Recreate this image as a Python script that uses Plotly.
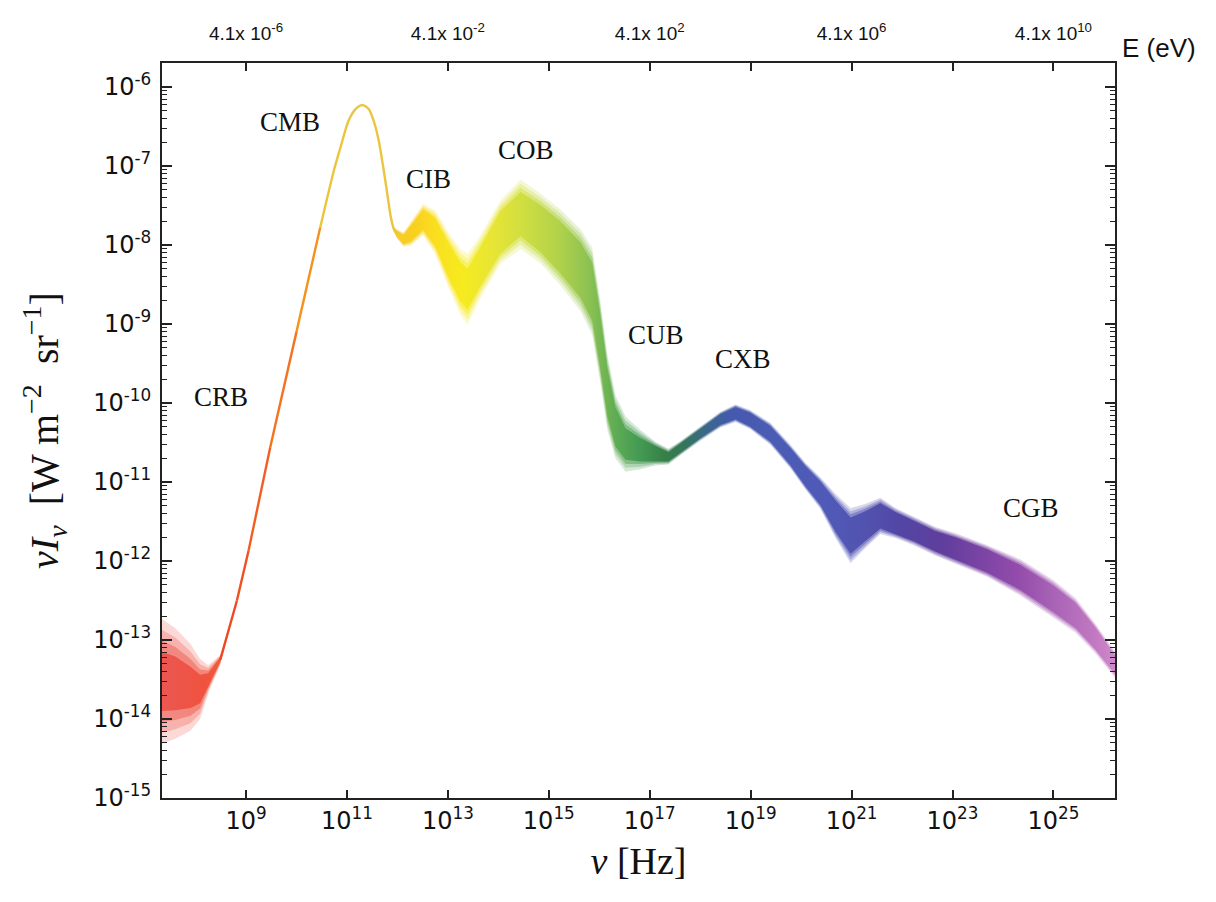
import numpy as np
import plotly.graph_objects as go

# ---------------- data ----------------
# log10 of frequency nu [Hz]
log_nu = [7.30, 7.60, 7.90, 8.09, 8.25, 8.49, 8.82, 9.05, 9.48, 10.00,
          10.47, 10.61, 10.74, 10.87, 11.03, 11.17, 11.30, 11.43, 11.53, 11.63,
          11.73, 11.81, 11.87, 11.93, 11.99, 12.12, 12.26, 12.51, 12.75, 13.01,
          13.25, 13.39, 13.64, 14.04, 14.44, 14.83, 15.23, 15.63, 15.86, 16.02,
          16.16, 16.32, 16.52, 16.81, 17.11, 17.37, 17.61, 18.00, 18.40, 18.70,
          18.99, 19.39, 19.79, 20.09, 20.38, 20.68, 20.98, 21.27, 21.57, 21.87,
          22.23, 22.66, 23.06, 23.69, 24.35, 25.00, 25.44, 25.83, 26.23]
# log10 of nu*I_nu [W m^-2 sr^-1], middle of the band
log_nuInu = [-13.52, -13.55, -13.60, -13.62, -13.50, -13.25, -12.50, -11.87, -10.56, -9.10,
             -7.78, -7.40, -7.06, -6.77, -6.43, -6.28, -6.23, -6.28, -6.43, -6.68,
             -7.06, -7.40, -7.65, -7.80, -7.86, -7.93, -7.86, -7.68, -7.84, -8.19,
             -8.47, -8.56, -8.28, -7.84, -7.61, -7.79, -8.03, -8.32, -8.59, -9.22,
             -9.86, -10.30, -10.52, -10.59, -10.64, -10.68, -10.57, -10.39, -10.21, -10.13,
             -10.21, -10.39, -10.68, -10.93, -11.14, -11.43, -11.68, -11.56, -11.43, -11.52,
             -11.62, -11.75, -11.84, -12.00, -12.21, -12.48, -12.69, -12.98, -13.32]
# half width of the dense core of the band [dex]
core_spread = [0.38, 0.34, 0.26, 0.18, 0.08, 0.03, 0.0, 0.0, 0.0, 0.0,
               0.0, 0.0, 0.0, 0.0, 0.0, 0.0, 0.0, 0.0, 0.0, 0.0,
               0.0, 0.0, 0.0, 0.02, 0.04, 0.06, 0.10, 0.13, 0.18, 0.22,
               0.25, 0.26, 0.25, 0.27, 0.28, 0.30, 0.33, 0.35, 0.37, 0.35,
               0.31, 0.25, 0.20, 0.15, 0.10, 0.06, 0.06, 0.06, 0.07, 0.08,
               0.09, 0.10, 0.11, 0.13, 0.15, 0.20, 0.23, 0.19, 0.16, 0.14,
               0.13, 0.13, 0.14, 0.15, 0.16, 0.17, 0.16, 0.14, 0.12]
# half width of the faint outer scatter [dex]
outer_spread = [0.80, 0.70, 0.55, 0.38, 0.18, 0.06, 0.0, 0.0, 0.0, 0.0,
                0.0, 0.0, 0.0, 0.0, 0.0, 0.0, 0.0, 0.0, 0.0, 0.0,
                0.0, 0.0, 0.0, 0.03, 0.06, 0.09, 0.15, 0.20, 0.28, 0.35,
                0.42, 0.45, 0.40, 0.40, 0.44, 0.44, 0.48, 0.52, 0.55, 0.52,
                0.48, 0.40, 0.35, 0.25, 0.15, 0.10, 0.09, 0.09, 0.10, 0.11,
                0.12, 0.14, 0.15, 0.17, 0.20, 0.28, 0.35, 0.28, 0.23, 0.19,
                0.18, 0.18, 0.19, 0.20, 0.23, 0.24, 0.22, 0.19, 0.17]

# component labels
label_text = ["CRB", "CMB", "CIB", "COB", "CUB", "CXB", "CGB"]
label_log_nu = [8.51, 9.87, 12.61, 14.54, 17.13, 18.84, 24.55]
label_log_val = [-9.93, -6.45, -7.16, -6.80, -9.14, -9.44, -11.33]

# axis ticks
x_tick_exp = [9, 11, 13, 15, 17, 19, 21, 23, 25]
y_tick_exp = [-15, -14, -13, -12, -11, -10, -9, -8, -7, -6]
energy_tick_exp = [9, 13, 17, 21, 25]
energy_tick_text = ["4.1x 10<sup>-6</sup>", "4.1x 10<sup>-2</sup>", "4.1x 10<sup>2</sup>",
                    "4.1x 10<sup>6</sup>", "4.1x 10<sup>10</sup>"]

# ---------------- colour along the spectrum ----------------
color_stops = [
    (7.30, "#e8403a"), (8.20, "#ee3a24"), (8.90, "#f05023"), (9.60, "#f26a22"),
    (10.20, "#f5901e"), (10.46, "#f7a01c"), (10.50, "#e9c23a"), (11.50, "#ebc63e"),
    (11.95, "#f2c410"), (12.30, "#f8c800"), (12.80, "#f8dc00"), (13.30, "#f5e800"),
    (13.90, "#e4e21a"), (14.50, "#c8da26"), (15.20, "#a6cc32"), (15.80, "#7cba3a"),
    (16.30, "#4aa23c"), (16.80, "#2a8c3c"), (17.30, "#1b6e2e"), (17.70, "#1a6246"),
    (18.10, "#1f5478"), (18.60, "#2c42a2"), (19.50, "#3246aa"), (20.50, "#3844ae"),
    (21.30, "#3a3aa4"), (22.00, "#3a2c98"), (22.80, "#4a2490"), (23.60, "#6a2a98"),
    (24.30, "#8434a0"), (25.00, "#9c4eac"), (25.80, "#b866b8"), (26.23, "#c87ac4"),
]
CMB_START = 10.47  # where the thin line turns from orange to the golden CMB colour


def hex_rgb(h):
    h = h.lstrip("#")
    return np.array([int(h[i:i + 2], 16) for i in (0, 2, 4)], dtype=float)


def blend(c, alpha):
    c = hex_rgb(c) * alpha + 255 * (1 - alpha)
    return "rgb(%d,%d,%d)" % tuple(np.clip(np.round(c), 0, 255))


def color_at(L, alpha=1.0):
    pos = [s[0] for s in color_stops]
    cols = [hex_rgb(s[1]) for s in color_stops]
    k = int(np.clip(np.searchsorted(pos, L) - 1, 0, len(pos) - 2))
    t = np.clip((L - pos[k]) / (pos[k + 1] - pos[k]), 0, 1)
    c = cols[k] * (1 - t) + cols[k + 1] * t
    c = c * alpha + 255 * (1 - alpha)
    return "rgb(%d,%d,%d)" % tuple(np.clip(np.round(c), 0, 255))


ln = np.array(log_nu)
lv = np.array(log_nuInu)
cs = np.array(core_spread)
os_ = np.array(outer_spread)
L0, L1 = ln[0], ln[-1]


def gradient_scale(alpha):
    return [[(p - L0) / (L1 - L0), blend(c, alpha)] for p, c in color_stops]


fig = go.Figure()


def band_layer(spread, alpha):
    xs = np.concatenate([ln, ln[::-1], ln[:1]])
    ys = np.concatenate([lv + spread, (lv - spread)[::-1], (lv + spread)[:1]])
    fig.add_trace(go.Scatter(
        x=10 ** xs, y=10 ** ys, mode="lines", fill="toself",
        fillgradient=dict(type="horizontal", colorscale=gradient_scale(alpha)),
        line=dict(width=0), hoverinfo="skip", showlegend=False))


# soft cloud: nested layers from the faint outer scatter to the dense core
for frac, alpha in [(0.0, 0.20), (0.33, 0.40), (0.66, 0.62), (1.0, 0.88)]:
    band_layer(os_ + frac * (cs - os_), alpha)

# thin line where the spectrum is well constrained
thin = [i for i in range(len(ln) - 1) if max(cs[i], cs[i + 1]) < 0.05]
for i in thin:
    if ln[i + 1] <= CMB_START:
        col = color_at(0.5 * (ln[i] + ln[i + 1]))
        fig.add_trace(go.Scatter(
            x=10 ** ln[i:i + 2], y=10 ** lv[i:i + 2], mode="lines",
            line=dict(color=col, width=2.4), hoverinfo="skip", showlegend=False))
cmb_idx = [i for i in range(len(ln)) if ln[i] >= CMB_START and i <= max(thin) + 1]
fig.add_trace(go.Scatter(
    x=10 ** ln[cmb_idx], y=10 ** lv[cmb_idx], mode="lines",
    line=dict(color=color_at(11.3), width=2.4, shape="spline", smoothing=0.8),
    hoverinfo="skip", showlegend=False))

# invisible trace to anchor the top (energy) axis
fig.add_trace(go.Scatter(x=[1e9], y=[1e-20], xaxis="x2", mode="markers",
                         marker=dict(opacity=0), hoverinfo="skip", showlegend=False))

for t, lx, ly in zip(label_text, label_log_nu, label_log_val):
    fig.add_annotation(x=lx, y=ly, text=t, showarrow=False, xanchor="center", yanchor="middle",
                       font=dict(family="Liberation Serif", size=27, color="#111"))

fig.add_annotation(xref="paper", yref="paper", x=1.046, y=1.02, text="E (eV)",
                   xanchor="center", yanchor="middle", showarrow=False,
                   font=dict(family="Liberation Sans", size=26, color="#111"))

axis_line = dict(showline=True, linecolor="#222", linewidth=2, mirror="ticks",
                 showgrid=False, zeroline=False, ticks="inside", tickcolor="#222")

fig.update_layout(
    width=1208, height=894,
    margin=dict(l=154, r=101, t=52, b=104),
    paper_bgcolor="white", plot_bgcolor="white",
    xaxis=dict(type="log", range=[7.335, 26.22],
               tickmode="array", tickvals=[10.0 ** e for e in x_tick_exp],
               ticktext=["10<sup>%d</sup>" % e for e in x_tick_exp],
               ticklen=8, tickwidth=1.5,
               tickfont=dict(family="DejaVu Sans", size=24, color="#111"),
               title=dict(text="<i>ν</i> [Hz]",
                          font=dict(family="Liberation Serif", size=38, color="#111"),
                          standoff=14),
               **axis_line),
    xaxis2=dict(type="log", range=[7.335, 26.22], overlaying="x", side="top",
                anchor="y", showgrid=False, zeroline=False, showline=False,
                ticks="", tickmode="array",
                tickvals=[10.0 ** e for e in energy_tick_exp], ticktext=energy_tick_text,
                ticklabelstandoff=18,
                tickfont=dict(family="Liberation Sans", size=19, color="#111")),
    yaxis=dict(type="log", range=[-15, -5.697],
               tickmode="array", tickvals=[10.0 ** e for e in y_tick_exp],
               ticktext=["10<sup>%d</sup>" % e for e in y_tick_exp],
               ticklen=10, tickwidth=1.5, ticklabelstandoff=4,
               minor=dict(ticks="inside", ticklen=5, tickwidth=1.2, tickcolor="#222",
                          dtick="D1", showgrid=False),
               tickfont=dict(family="DejaVu Sans", size=24, color="#111"),
               title=dict(text="<i>νI</i><sub><i>ν</i></sub>  [W m<sup>−2</sup>  sr<sup>−1</sup>]",
                          font=dict(family="Liberation Serif", size=40, color="#111"),
                          standoff=22),
               **axis_line),
)

fig.write_html("out.html")
